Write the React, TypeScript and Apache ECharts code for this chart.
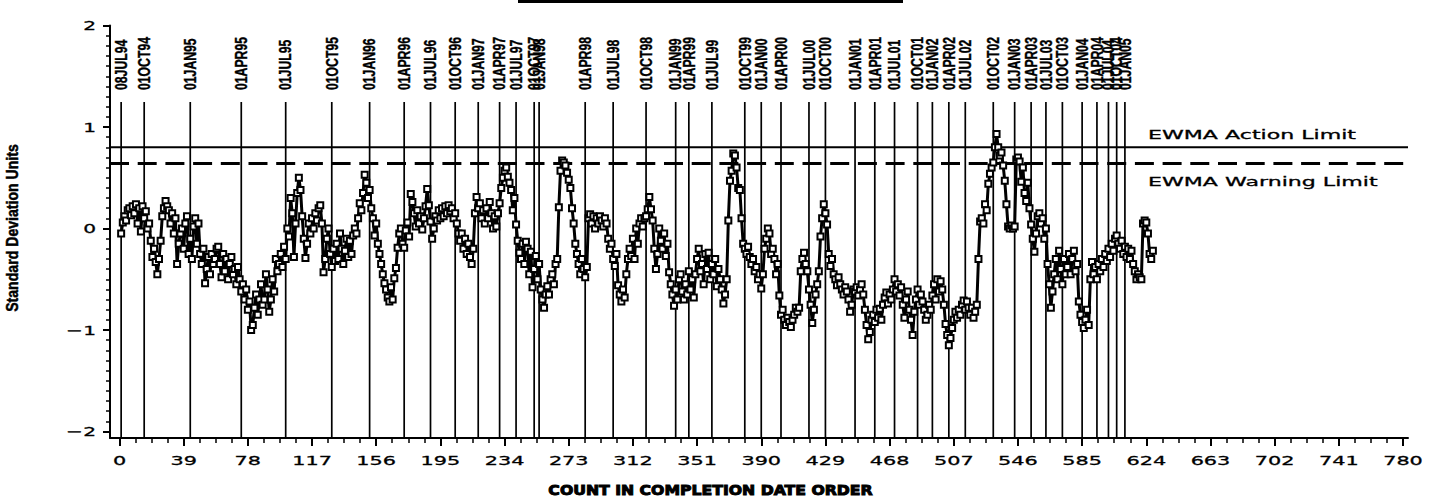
import React, { useEffect, useRef } from 'react';
import * as echarts from 'echarts';

// ---------- data ----------
// EWMA values (standard deviation units), count 1, 2, 3, ...
const VALUES: number[] = [
  -0.05, 0.06, 0.12, 0.08, 0.18, 0.2, 0.13, 0.22, 0.15,
  0.24, 0.05, 0.2, -0.03, 0.22, 0.1, 0.17, 0.0, 0.05, -0.12,
  -0.28, -0.2, -0.33, -0.45, -0.3, -0.12, 0.12, 0.2, 0.27, 0.22,
  0.18, 0.05, 0.15, -0.05, 0.1, -0.35, -0.15, -0.05, 0.0, -0.2,
  0.05, 0.12, -0.25, -0.1, -0.3, 0.02, 0.1, -0.15, 0.05, -0.25,
  -0.35, -0.2, -0.54, -0.4, -0.28, -0.45, -0.25, -0.35, -0.3, -0.2,
  -0.18, -0.35, -0.48, -0.25, -0.42, -0.3, -0.5, -0.35, -0.28, -0.45,
  -0.4, -0.55, -0.38, -0.5, -0.62, -0.55, -0.7, -0.6, -0.8, -0.72,
  -1.0, -0.95, -0.78, -0.65, -0.85, -0.7, -0.55, -0.75,
  -0.7, -0.45, -0.6, -0.82, -0.7, -0.5, -0.62, -0.3, -0.42, -0.35, -0.25, -0.38, -0.18, -0.3,
  0.0, -0.08, 0.3, 0.15, -0.28, 0.05, 0.35, 0.5, 0.38,
  0.12, -0.1, -0.29, -0.15, 0.05, -0.05, 0.1, 0.0, 0.15, 0.08, 0.2, 0.23,
  0.05, -0.43, -0.3, -0.1, 0.0, -0.25, -0.38, -0.2,
  -0.32, -0.15, -0.3, -0.05, -0.2, -0.35, -0.22, -0.1, -0.28, -0.12, -0.25, -0.07,
  0.0, -0.05, 0.1, 0.25, 0.18, 0.35, 0.53, 0.45,
  0.3, 0.38, 0.2, 0.1, -0.07, 0.05,
  -0.15, -0.25, -0.35, -0.45, -0.54, -0.6, -0.68, -0.72,
  -0.58, -0.7, -0.49, -0.39, -0.19, -0.05, 0.0, -0.15,
  -0.19, -0.02, 0.06, -0.08,
  0.34, 0.26,
  0.15, 0.02, 0.18, 0.05, 0.12, -0.01, 0.1, 0.22, 0.39, 0.23, 0.07, -0.1, 0.0, 0.12,
  0.08, 0.18, 0.1, 0.2, 0.12, 0.22, 0.15, 0.23, 0.17, 0.2, 0.1, 0.15,
  0.05, -0.05, -0.12, -0.05, -0.2, -0.1, -0.25, -0.15, -0.28, -0.35, -0.2, 0.15,
  0.31, 0.2, 0.25, 0.1, 0.18, 0.05, 0.2, 0.1, 0.26, 0.15, 0.0, 0.12, 0.02, 0.15,
  0.25, 0.4, 0.5, 0.57, 0.6, 0.51, 0.45, 0.38, 0.18,
  0.3, 0.04, -0.12, -0.24, -0.3, -0.15,
  -0.35, -0.13, -0.2, -0.45, -0.23, -0.58, -0.4, -0.27,
  -0.5, -0.35, -0.6, -0.7, -0.78, -0.65, -0.57,
  -0.65, -0.5, -0.45, -0.55, -0.35, -0.3, 0.21, 0.57, 0.67,
  0.65, 0.62, 0.55, 0.48, 0.4,
  0.2, 0.05, -0.15, -0.25,
  -0.35, -0.45, -0.3, -0.4, -0.48, -0.38,
  0.1, 0.14, 0.05, 0.12, 0.0, 0.1, 0.05, 0.12, 0.08, 0.02, 0.1, 0.05,
  -0.1, -0.2, -0.15, -0.3, -0.37, -0.25,
  -0.56, -0.65, -0.72, -0.6, -0.68, -0.45, -0.3, -0.2, -0.27,
  -0.1, -0.3, 0.0, -0.15, 0.05, 0.1, 0.02, 0.1, 0.12, 0.19, 0.31, 0.19, 0.08,
  -0.2, -0.4, -0.25,
  0.0, -0.12, -0.2, -0.05, -0.27, -0.15, -0.43,
  -0.55, -0.65, -0.76, -0.6, -0.7, -0.5, -0.45,
  -0.62, -0.7, -0.55, -0.65, -0.42, -0.6, -0.5, -0.68, -0.45,
  -0.3, -0.2, -0.42, -0.35, -0.55, -0.25, -0.4,
  -0.24, -0.5, -0.35, -0.45, -0.3, -0.57, -0.4, -0.5,
  -0.6, -0.74, -0.65, -0.5,
  0.08, 0.47, 0.57, 0.74, 0.72,
  0.6, 0.4, 0.38, 0.1,
  -0.15, -0.2, -0.25, -0.18,
  -0.28, -0.35, -0.3, -0.42, -0.38, -0.5, -0.45, -0.59,
  -0.45, -0.2, -0.1, 0.0, -0.05, -0.25, -0.2, -0.3, -0.45, -0.35,
  -0.66, -0.85, -0.8,
  -0.9, -0.95, -0.88, -0.92, -0.97, -0.9, -0.85, -0.78, -0.82, -0.78,
  -0.42, -0.3, -0.24, -0.35, -0.42,
  -0.6, -0.75, -0.93, -0.8, -0.65,
  -0.55, -0.42, -0.08, 0.1, 0.24, 0.15, 0.04,
  -0.25, -0.37, -0.3,
  -0.45, -0.5, -0.56, -0.48, -0.55,
  -0.6, -0.65, -0.58, -0.62, -0.7, -0.82, -0.75, -0.6,
  -0.62, -0.58, -0.66, -0.6, -0.55, -0.65,
  -0.8, -0.95, -1.09, -1.02, -0.9, -0.85,
  -0.92, -0.8, -0.88, -0.79, -0.9, -0.75,
  -0.68, -0.63, -0.74, -0.65, -0.7, -0.6,
  -0.5, -0.62, -0.55, -0.66, -0.58, -0.75, -0.88, -0.7,
  -0.62, -0.8, -0.9, -1.05, -0.82, -0.7,
  -0.6, -0.75, -0.65, -0.72,
  -0.8, -0.9, -0.85, -0.75, -0.8, -0.66,
  -0.55, -0.7, -0.5, -0.62, -0.52, -0.6, -0.75,
  -0.94, -1.05, -1.15, -1.08, -0.98,
  -0.9, -0.82, -0.88, -0.8, -0.85,
  -0.75, -0.71, -0.8, -0.72, -0.78, -0.85, -0.78, -0.88, -0.82, -0.75,
  -0.3, 0.07, 0.1, 0.05, 0.24, 0.18, 0.44, 0.54, 0.6,
  0.65, 0.8, 0.93, 0.8, 0.72,
  0.75, 0.62, 0.47, 0.24,
  0.02, 0.0, 0.03, 0.0, 0.02,
  0.68, 0.7, 0.66, 0.46, 0.6, 0.35, 0.27,
  0.45, 0.2, 0.04, -0.1, -0.23, -0.05, 0.12,
  0.15, 0.05, 0.1, -0.1, 0.0, -0.35, -0.55, -0.78, -0.62,
  -0.45, -0.3, -0.5, -0.22, -0.4, -0.55, -0.3, -0.45,
  -0.38, -0.25, -0.45, -0.3, -0.22, -0.42, -0.35,
  -0.72, -0.85, -0.92, -0.98, -0.9, -0.8, -0.95,
  -0.5, -0.33, -0.45, -0.38, -0.5,
  -0.35, -0.42, -0.3, -0.38, -0.25, -0.32, -0.2, -0.28, -0.15, -0.22, -0.1, -0.07, -0.15, -0.2, -0.12, -0.25, -0.18, -0.28, -0.2, -0.3, -0.22,
  -0.35, -0.42, -0.5, -0.45, -0.48, -0.5,
  0.05, 0.08, 0.06, -0.05, -0.25, -0.3, -0.22,
];
const START_COUNT = 1;

const DATE_LABELS: string[] = [
  '08JUL94', '01OCT94', '01JAN95', '01APR95', '01JUL95', '01OCT95', '01JAN96', '01APR96',
  '01JUL96', '01OCT96', '01JAN97', '01APR97', '01JUL97', '01OCT97', '01JAN98', '01APR98',
  '01JUL98', '01OCT98', '01JAN99', '01APR99', '01JUL99', '01OCT99', '01JAN00', '01APR00',
  '01JUL00', '01OCT00', '01JAN01', '01APR01', '01JUL01', '01OCT01', '01JAN02', '01APR02',
  '01JUL02', '01OCT02', '01JAN03', '01APR03', '01JUL03', '01OCT03', '01JAN04', '01APR04',
  '01JUL04', '01OCT04', '01JAN05',
];
const DATE_COUNTS: number[] = [
  1, 15, 43, 74, 101, 129, 152, 173,
  189, 204, 218, 231, 241, 252, 255, 283,
  300, 320, 338, 346, 360, 380, 390, 402,
  419, 429, 447, 459, 471, 485, 494, 504,
  514, 531, 544, 554, 563, 573, 585, 594,
  601, 606, 611,
];

const X_TICKS: number[] = [0, 39, 78, 117, 156, 195, 234, 273, 312, 351, 390, 429, 468, 507, 546, 585, 624, 663, 702, 741, 780];
const Y_TICKS: number[] = [-2, -1, 0, 1, 2];

const ACTION_LIMIT = 0.8;
const WARNING_LIMIT = 0.64;
const ACTION_LABEL = 'EWMA Action Limit';
const WARNING_LABEL = 'EWMA Warning Limit';
const X_TITLE = 'COUNT IN COMPLETION DATE ORDER';
const Y_TITLE = 'Standard Deviation Units';

// ---------- layout (pixels) ----------
const W = 1445;
const H = 501;
const PLOT_LEFT = 119.5;   // x = 0
const PLOT_RIGHT = 1403;   // x = 780
const PLOT_TOP = 25.5;     // y = 2
const PLOT_BOTTOM = 431.5; // y = -2
const FRAME_LEFT = 110;    // y axis line
const FRAME_RIGHT = 1408;  // end of x axis line
const FRAME_BOTTOM = 438;  // x axis line

const X_MIN = 0, X_MAX = 780, X_INTERVAL = 39;
const Y_MIN = -2, Y_MAX = 2, Y_INTERVAL = 1;
const PX_PER_X = (PLOT_RIGHT - PLOT_LEFT) / (X_MAX - X_MIN);
const PX_PER_Y = (PLOT_BOTTOM - PLOT_TOP) / (Y_MAX - Y_MIN);
const FRAME_X_MIN = X_MIN - (PLOT_LEFT - FRAME_LEFT) / PX_PER_X;
const FRAME_X_MAX = X_MAX + (FRAME_RIGHT - PLOT_RIGHT) / PX_PER_X;
const FRAME_Y_MIN = Y_MIN - (FRAME_BOTTOM - PLOT_BOTTOM) / PX_PER_Y;

const REF_LINE_TOP_PX = 102;
const REF_LABEL_BASE_PX = 90;

const WIDE_FONT = '"DejaVu Sans", Verdana, sans-serif';
const NARROW_FONT = '"Liberation Sans", Arial, sans-serif';

function buildOption(): any {
  const yFromPx = (py: number) => Y_MAX - (py - PLOT_TOP) / PX_PER_Y;

  return {
    animation: false,
    backgroundColor: '#ffffff',
    grid: [
      { left: PLOT_LEFT, right: W - PLOT_RIGHT, top: PLOT_TOP, bottom: H - PLOT_BOTTOM, containLabel: false },
      { left: FRAME_LEFT, right: W - FRAME_RIGHT, top: PLOT_TOP, bottom: H - FRAME_BOTTOM, containLabel: false },
    ],
    xAxis: [
      {
        type: 'value', gridIndex: 0, min: X_MIN, max: X_MAX, interval: X_INTERVAL,
        position: 'bottom', offset: FRAME_BOTTOM - PLOT_BOTTOM,
        axisLine: { show: false, onZero: false },
        axisTick: { show: true, length: 8, lineStyle: { color: '#000', width: 2 } },
        minorTick: { show: true, splitNumber: 4, length: 5, lineStyle: { color: '#000', width: 1.5 } },
        axisLabel: { show: false },
        splitLine: { show: false },
        minorSplitLine: { show: false },
      },
      {
        type: 'value', gridIndex: 1, min: FRAME_X_MIN, max: FRAME_X_MAX,
        position: 'bottom',
        axisLine: { show: true, onZero: false, lineStyle: { color: '#000', width: 2 } },
        axisTick: { show: false },
        axisLabel: { show: false },
        splitLine: { show: false },
      },
    ],
    yAxis: [
      {
        type: 'value', gridIndex: 0, min: Y_MIN, max: Y_MAX, interval: Y_INTERVAL,
        position: 'left', offset: PLOT_LEFT - FRAME_LEFT,
        axisLine: { show: false, onZero: false },
        axisTick: { show: true, length: 7, lineStyle: { color: '#000', width: 2 } },
        minorTick: { show: true, splitNumber: 10, length: 4, lineStyle: { color: '#000', width: 1.5 } },
        axisLabel: { show: false },
        splitLine: { show: false },
        minorSplitLine: { show: false },
      },
      {
        type: 'value', gridIndex: 1, min: FRAME_Y_MIN, max: Y_MAX,
        position: 'left',
        axisLine: { show: true, onZero: false, lineStyle: { color: '#000', width: 2 } },
        axisTick: { show: false },
        axisLabel: { show: false },
        splitLine: { show: false },
      },
    ],
    series: [
      // limit lines (span the whole frame)
      {
        name: 'action', type: 'line', xAxisIndex: 1, yAxisIndex: 1, silent: true, symbol: 'none', z: 2,
        data: [[FRAME_X_MIN, ACTION_LIMIT], [FRAME_X_MAX, ACTION_LIMIT]],
        lineStyle: { color: '#000', width: 2, type: 'solid' },
      },
      {
        name: 'warning', type: 'line', xAxisIndex: 1, yAxisIndex: 1, silent: true, symbol: 'none', z: 2,
        data: [[FRAME_X_MIN, WARNING_LIMIT], [FRAME_X_MAX, WARNING_LIMIT]],
        lineStyle: { color: '#000', width: 3, type: [19, 8.7] },
      },
      // date reference lines + rotated labels
      {
        name: 'dates', type: 'custom', xAxisIndex: 0, yAxisIndex: 0, clip: false, silent: true, z: 1,
        data: DATE_COUNTS.map((c) => [c, 0]),
        renderItem: (params: any, api: any) => {
          const c = api.value(0);
          const top = api.coord([c, yFromPx(REF_LINE_TOP_PX)]);
          const bot = api.coord([c, FRAME_Y_MIN]);
          const lab = api.coord([c, yFromPx(REF_LABEL_BASE_PX)]);
          return {
            type: 'group',
            children: [
              {
                type: 'line',
                shape: { x1: top[0], y1: top[1], x2: bot[0], y2: bot[1] },
                style: { stroke: '#000', lineWidth: 1.7 },
              },
              {
                type: 'text',
                x: lab[0], y: lab[1], rotation: Math.PI / 2, scaleX: 0.72,
                style: {
                  text: DATE_LABELS[params.dataIndex], fill: '#000',
                  stroke: '#000', lineWidth: 0.4,
                  font: 'bold 17px ' + NARROW_FONT,
                  align: 'left', verticalAlign: 'middle',
                  textAlign: 'left', textVerticalAlign: 'middle',
                },
              },
            ],
          };
        },
      },
      // x tick labels
      {
        name: 'xlabels', type: 'custom', xAxisIndex: 0, yAxisIndex: 0, clip: false, silent: true, z: 3,
        data: X_TICKS.map((t) => [t, Y_MIN]),
        renderItem: (params: any, api: any) => {
          const p = api.coord([api.value(0), Y_MIN]);
          return {
            type: 'text', x: p[0], y: FRAME_BOTTOM + 23, scaleX: 1.6,
            style: {
              text: String(X_TICKS[params.dataIndex]), fill: '#000', stroke: '#000', lineWidth: 0.3,
              font: '13px ' + WIDE_FONT,
              align: 'center', verticalAlign: 'middle', textAlign: 'center', textVerticalAlign: 'middle',
            },
          };
        },
      },
      // y tick labels
      {
        name: 'ylabels', type: 'custom', xAxisIndex: 0, yAxisIndex: 0, clip: false, silent: true, z: 3,
        data: Y_TICKS.map((v) => [X_MIN, v]),
        renderItem: (params: any, api: any) => {
          const v = Y_TICKS[params.dataIndex];
          const p = api.coord([X_MIN, api.value(1)]);
          return {
            type: 'text', x: FRAME_LEFT - 14, y: p[1], scaleX: 1.55,
            style: {
              text: v < 0 ? '\u2212' + Math.abs(v) : String(v), fill: '#000', stroke: '#000', lineWidth: 0.3,
              font: '13px ' + WIDE_FONT,
              align: 'right', verticalAlign: 'middle', textAlign: 'right', textVerticalAlign: 'middle',
            },
          };
        },
      },
      // EWMA series
      {
        name: 'EWMA', type: 'line', xAxisIndex: 0, yAxisIndex: 0, silent: true, z: 5, clip: false,
        data: VALUES.map((v, i) => [i + START_COUNT, v]),
        symbol: 'rect', symbolSize: 6, showAllSymbol: true,
        lineStyle: { color: '#000', width: 3 },
        itemStyle: { color: '#fff', borderColor: '#000', borderWidth: 2 },
      },
    ],
    graphic: [
      { type: 'rect', shape: { x: 518, y: 0, width: 385, height: 3 }, style: { fill: '#000' } },
      {
        type: 'text', x: 710.5, y: 490, scaleX: 1.12,
        style: {
          text: X_TITLE, fill: '#000', stroke: '#000', lineWidth: 1, font: 'bold 14px ' + WIDE_FONT,
          align: 'center', verticalAlign: 'middle', textAlign: 'center', textVerticalAlign: 'middle',
        },
      },
      {
        type: 'text', x: 12, y: 228, rotation: Math.PI / 2, scaleX: 0.83,
        style: {
          text: Y_TITLE, fill: '#000', stroke: '#000', lineWidth: 0.5, font: 'bold 17px ' + NARROW_FONT,
          align: 'center', verticalAlign: 'middle', textAlign: 'center', textVerticalAlign: 'middle',
        },
      },
      {
        type: 'text', x: 1148, y: 134, scaleX: 1.7,
        style: {
          text: ACTION_LABEL, fill: '#000', stroke: '#000', lineWidth: 0.3, font: '13px ' + WIDE_FONT,
          align: 'left', verticalAlign: 'middle', textAlign: 'left', textVerticalAlign: 'middle',
        },
      },
      {
        type: 'text', x: 1148, y: 181, scaleX: 1.7,
        style: {
          text: WARNING_LABEL, fill: '#000', stroke: '#000', lineWidth: 0.3, font: '13px ' + WIDE_FONT,
          align: 'left', verticalAlign: 'middle', textAlign: 'left', textVerticalAlign: 'middle',
        },
      },
    ],
  };
}

export default function App() {
  const ref = useRef<HTMLDivElement>(null);
  useEffect(() => {
    if (!ref.current) return;
    const chart = echarts.init(ref.current, undefined, { renderer: 'svg' });
    chart.setOption(buildOption());
    return () => {
      chart.dispose();
    };
  }, []);
  return (
    <div
      ref={ref}
      style={{ position: 'fixed', left: 0, top: 0, width: W, height: H, background: '#fff' }}
    />
  );
}
